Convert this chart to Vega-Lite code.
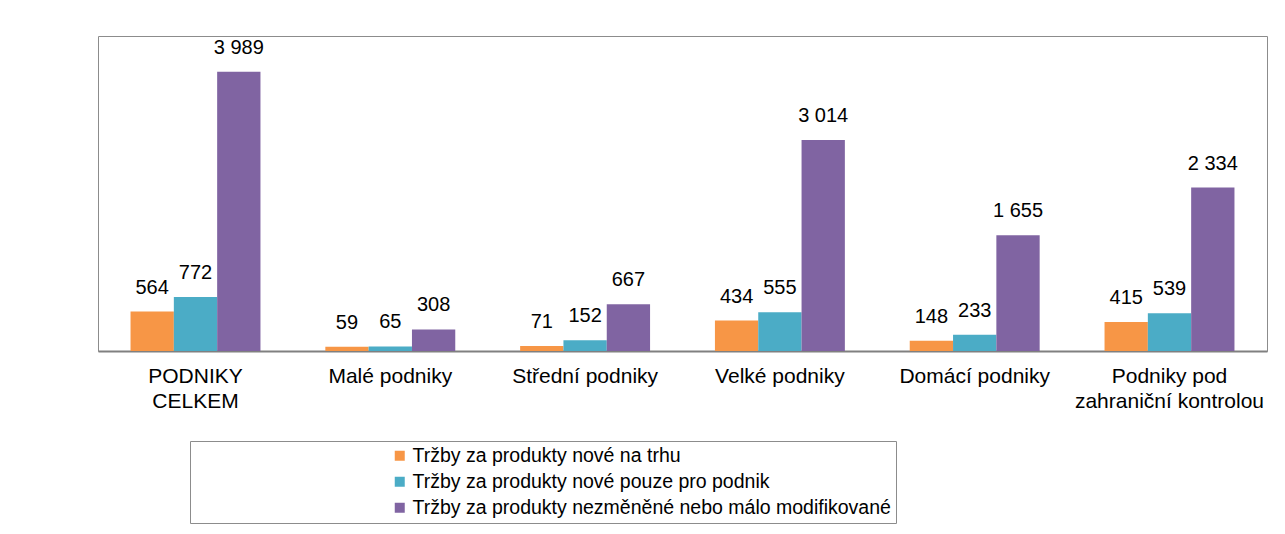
{
  "$schema": "https://vega.github.io/schema/vega-lite/v6.json",
  "width": 1169,
  "height": 315,
  "autosize": {"type": "none"},
  "padding": {"left": 98, "top": 36, "right": 18, "bottom": 183},
  "background": "white",
  "config": {
    "font": "Liberation Sans",
    "locale": {"number": {"decimal": ",", "thousands": " ", "grouping": [3], "currency": ["", " Kč"]}},
    "view": {"stroke": "#8c8c8c", "strokeWidth": 1}
  },
  "data": {
    "values": [
      {"kat": "PODNIKY CELKEM", "serie": "Tržby za produkty nové na trhu", "hodnota": 564},
      {"kat": "PODNIKY CELKEM", "serie": "Tržby za produkty nové pouze pro podnik", "hodnota": 772},
      {"kat": "PODNIKY CELKEM", "serie": "Tržby za produkty nezměněné nebo málo modifikované", "hodnota": 3989},
      {"kat": "Malé podniky", "serie": "Tržby za produkty nové na trhu", "hodnota": 59},
      {"kat": "Malé podniky", "serie": "Tržby za produkty nové pouze pro podnik", "hodnota": 65},
      {"kat": "Malé podniky", "serie": "Tržby za produkty nezměněné nebo málo modifikované", "hodnota": 308},
      {"kat": "Střední podniky", "serie": "Tržby za produkty nové na trhu", "hodnota": 71},
      {"kat": "Střední podniky", "serie": "Tržby za produkty nové pouze pro podnik", "hodnota": 152},
      {"kat": "Střední podniky", "serie": "Tržby za produkty nezměněné nebo málo modifikované", "hodnota": 667},
      {"kat": "Velké podniky", "serie": "Tržby za produkty nové na trhu", "hodnota": 434},
      {"kat": "Velké podniky", "serie": "Tržby za produkty nové pouze pro podnik", "hodnota": 555},
      {"kat": "Velké podniky", "serie": "Tržby za produkty nezměněné nebo málo modifikované", "hodnota": 3014},
      {"kat": "Domácí podniky", "serie": "Tržby za produkty nové na trhu", "hodnota": 148},
      {"kat": "Domácí podniky", "serie": "Tržby za produkty nové pouze pro podnik", "hodnota": 233},
      {"kat": "Domácí podniky", "serie": "Tržby za produkty nezměněné nebo málo modifikované", "hodnota": 1655},
      {"kat": "Podniky pod zahraniční kontrolou", "serie": "Tržby za produkty nové na trhu", "hodnota": 415},
      {"kat": "Podniky pod zahraniční kontrolou", "serie": "Tržby za produkty nové pouze pro podnik", "hodnota": 539},
      {"kat": "Podniky pod zahraniční kontrolou", "serie": "Tržby za produkty nezměněné nebo málo modifikované", "hodnota": 2334}
    ]
  },
  "encoding": {
    "x": {
      "field": "kat",
      "type": "nominal",
      "sort": null,
      "scale": {"paddingInner": 0.333, "paddingOuter": 0.167},
      "axis": {
        "title": null,
        "labelAngle": 0,
        "ticks": false,
        "domainColor": "#808080",
        "domainWidth": 2,
        "labelFontSize": 21,
        "labelColor": "#000000",
        "labelPadding": 14,
        "labelLineHeight": 25,
        "labelLimit": 300,
        "labelExpr": "datum.label == 'PODNIKY CELKEM' ? ['PODNIKY', 'CELKEM'] : datum.label == 'Podniky pod zahraniční kontrolou' ? ['Podniky pod', 'zahraniční kontrolou'] : datum.label"
      }
    },
    "xOffset": {"field": "serie", "type": "nominal", "sort": null},
    "y": {
      "field": "hodnota",
      "type": "quantitative",
      "scale": {"domain": [0, 4500], "nice": false},
      "axis": null
    }
  },
  "layer": [
    {
      "mark": {"type": "bar"},
      "encoding": {
        "color": {
          "field": "serie",
          "type": "nominal",
          "sort": null,
          "scale": {
            "domain": ["Tržby za produkty nové na trhu", "Tržby za produkty nové pouze pro podnik", "Tržby za produkty nezměněné nebo málo modifikované"],
            "range": ["#F79646", "#4BACC6", "#8064A2"]
          },
          "legend": {
            "title": null,
            "orient": "none",
            "legendX": 92,
            "legendY": 405,
            "direction": "vertical",
            "symbolType": "square",
            "symbolSize": 100,
            "symbolStrokeWidth": 0,
            "symbolOffset": 195,
            "labelOffset": 3,
            "labelFontSize": 19.5,
            "labelColor": "#000000",
            "labelLimit": 700,
            "rowPadding": 5,
            "padding": 5,
            "strokeColor": "#8c8c8c"
          }
        }
      }
    },
    {
      "mark": {"type": "text", "baseline": "middle", "dy": -24, "fontSize": 20, "color": "#000000"},
      "encoding": {
        "text": {"field": "hodnota", "type": "quantitative", "format": ",d"}
      }
    }
  ]
}
